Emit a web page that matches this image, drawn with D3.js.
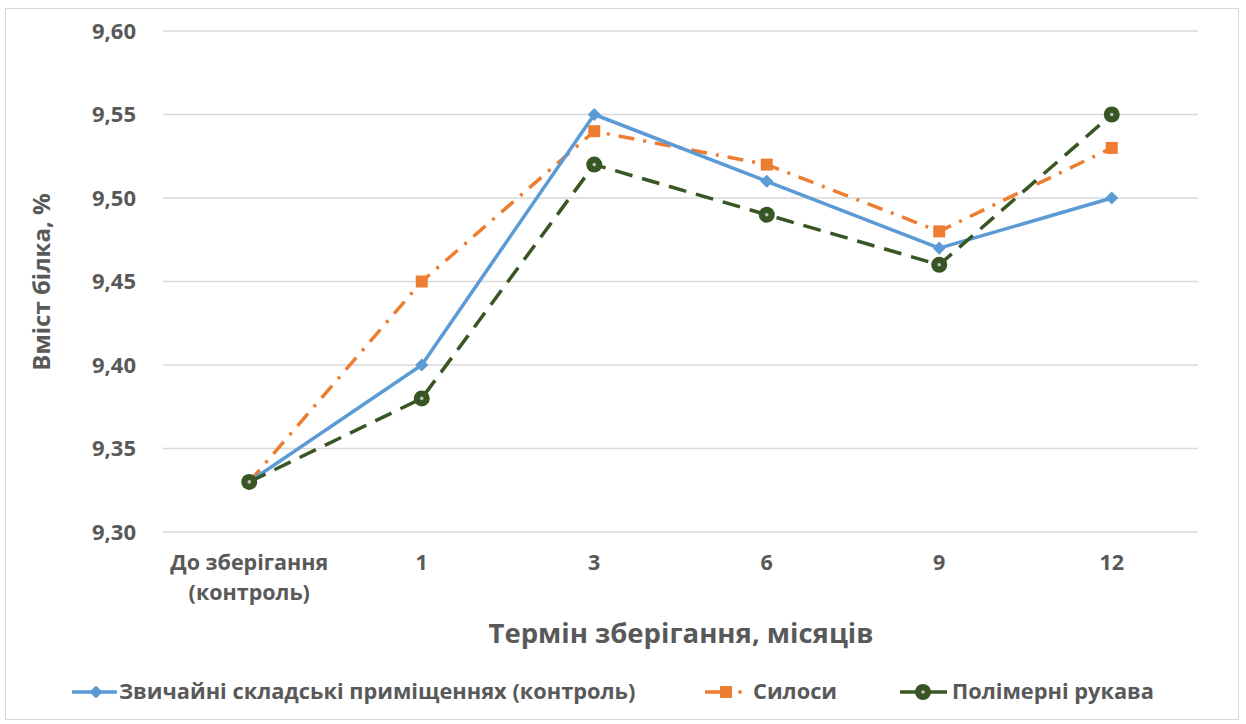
<!DOCTYPE html>
<html>
<head>
<meta charset="utf-8">
<script src="https://cdn.jsdelivr.net/npm/d3@7"></script>
<style>
  body { margin: 0; background: #fff; }
  text { font-family: "Open Sans", "Noto Sans", sans-serif; font-weight: 700; fill: #595959; }
</style>
</head>
<body>
<svg id="chart" width="1246" height="724"></svg>
<script>
// Protein content by storage term
const categories = ["До зберігання\n(контроль)", "1", "3", "6", "9", "12"];
const seriesNames = ["Звичайні складські приміщеннях (контроль)", "Силоси", "Полімерні рукава"];
const warehouse = [9.33, 9.40, 9.55, 9.51, 9.47, 9.50];
const silos = [9.33, 9.45, 9.54, 9.52, 9.48, 9.53];
const sleeves = [9.33, 9.38, 9.52, 9.49, 9.46, 9.55];
const yTicks = [9.30, 9.35, 9.40, 9.45, 9.50, 9.55, 9.60];

const svg = d3.select("#chart");
const plot = { left: 163, right: 1198, top: 31, bottom: 532 };

// outer frame
svg.append("rect").attr("x", 5.5).attr("y", 8.5).attr("width", 1233).attr("height", 711)
  .attr("fill", "#fff").attr("stroke", "#d9d9d9").attr("stroke-width", 1);

const x = d3.scaleBand().domain(d3.range(categories.length)).range([plot.left, plot.right]);
const y = d3.scaleLinear().domain([9.30, 9.60]).range([plot.bottom, plot.top]);
const cx = i => x(i) + x.bandwidth() / 2;

// gridlines
svg.append("g").selectAll("line").data(yTicks).join("line")
  .attr("x1", plot.left).attr("x2", plot.right)
  .attr("y1", d => y(d)).attr("y2", d => y(d))
  .attr("stroke", "#d9d9d9").attr("stroke-width", 1.3);

// y axis labels
const fmt = d => d3.format(".2f")(d).replace(".", ",");
const yAxis = d3.axisLeft(y).tickValues(yTicks).tickFormat(fmt).tickSize(0).tickPadding(27);
const gy = svg.append("g").attr("transform", `translate(${plot.left},0)`).call(yAxis);
gy.select(".domain").remove();
gy.selectAll("text").attr("font-size", 22).attr("fill", "#595959")
  .style("font-family", '"Open Sans", sans-serif').style("font-weight", 700);

// x axis labels
const xl = svg.append("g");
categories.forEach((c, i) => {
  const lines = c.split("\n");
  const t = xl.append("text").attr("text-anchor", "middle").attr("font-size", 21.5)
    .attr("x", cx(i)).attr("y", 570);
  lines.forEach((ln, k) => t.append("tspan").attr("x", cx(i)).attr("dy", k === 0 ? 0 : 30).text(ln));
});

// axis titles
svg.append("text").attr("transform", "translate(50,282) rotate(-90)")
  .attr("text-anchor", "middle").attr("font-size", 24).text("Вміст білка, %");
svg.append("text").attr("x", 681).attr("y", 643)
  .attr("text-anchor", "middle").attr("font-size", 27.5).text("Термін зберігання, місяців");

const line = d3.line().x((d, i) => cx(i)).y(d => y(d));

const series = [
  { name: seriesNames[0], data: warehouse, color: "#5B9BD5", dash: null, width: 3.5, marker: "diamond" },
  { name: seriesNames[1], data: silos, color: "#ED7D31", dash: "16,9,3,9", width: 3.5, marker: "square" },
  { name: seriesNames[2], data: sleeves, color: "#375623", dash: "18,10", width: 3.5, marker: "circle" }
];

function drawMarker(g, type, color, px, py) {
  if (type === "diamond") {
    g.append("path").attr("d", d3.symbol(d3.symbolDiamond2 || d3.symbolDiamond, 110)())
      .attr("transform", `translate(${px},${py})`).attr("fill", color);
  } else if (type === "square") {
    g.append("rect").attr("x", px - 6).attr("y", py - 6).attr("width", 12).attr("height", 12).attr("fill", color);
  } else {
    g.append("circle").attr("cx", px).attr("cy", py).attr("r", 8).attr("fill", color);
    g.append("circle").attr("cx", px).attr("cy", py).attr("r", 1.8).attr("fill", "#bfbfbf");
  }
}

// draw order: orange, blue, green on top
[series[1], series[0], series[2]].forEach(s => {
  const g = svg.append("g");
  g.append("path").datum(s.data).attr("d", line).attr("fill", "none")
    .attr("stroke", s.color).attr("stroke-width", s.width)
    .attr("stroke-dasharray", s.dash).attr("stroke-linejoin", "round");
  s.data.forEach((v, i) => drawMarker(g, s.marker, s.color, cx(i), y(v)));
});

// legend
const legendY = 692;
const legendPos = [
  { x0: 72, x1: 117, mx: 96, tx: 119, dot: null },
  { x0: 705, x1: 731, mx: 726, tx: 753, dot: 740 },
  { x0: 900, x1: 947, mx: 923, tx: 952, dot: null }
];
series.forEach((s, i) => {
  const p = legendPos[i];
  const g = svg.append("g");
  g.append("line").attr("x1", p.x0).attr("x2", p.x1).attr("y1", legendY).attr("y2", legendY)
    .attr("stroke", s.color).attr("stroke-width", 3.5);
  if (p.dot) g.append("circle").attr("cx", p.dot).attr("cy", legendY).attr("r", 1.9).attr("fill", s.color);
  drawMarker(g, s.marker, s.color, p.mx, legendY);
  g.append("text").attr("x", p.tx).attr("y", legendY + 7).attr("font-size", 21.8).text(s.name);
});
</script>
</body>
</html>
